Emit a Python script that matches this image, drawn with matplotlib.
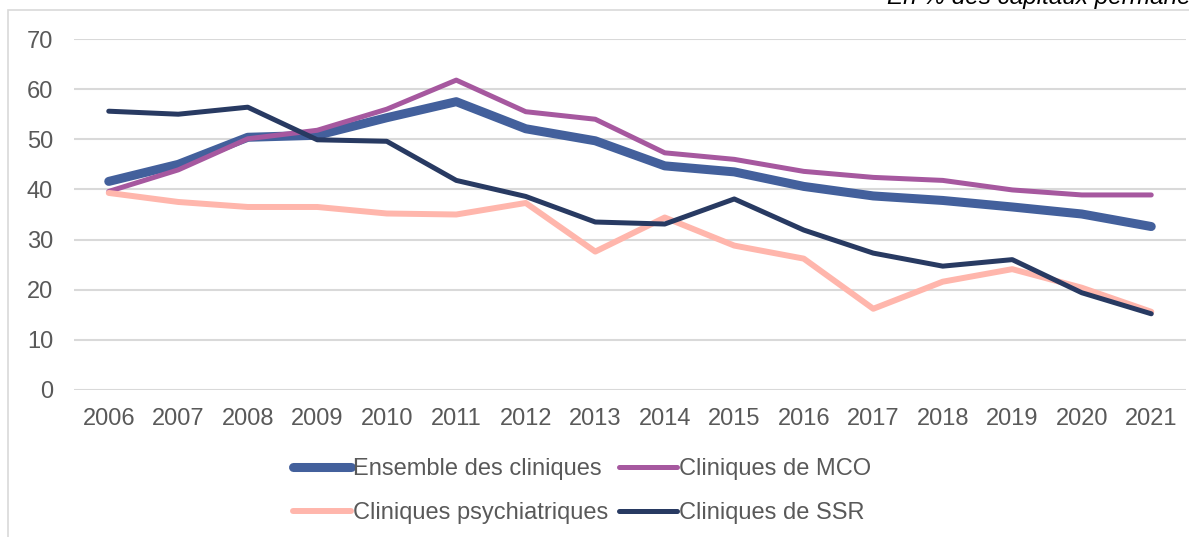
import numpy as np
import matplotlib
matplotlib.use('Agg')
from matplotlib import pyplot as plt
from matplotlib import rcParams
from matplotlib.patches import Rectangle

rcParams['font.family'] = ['Liberation Sans', 'DejaVu Sans']

#%% data (en % des capitaux permanents)
years = np.arange(2006, 2022)
ensemble = [41.6, 45.0, 50.4, 50.8, 54.3, 57.5, 52.1, 49.7, 44.7, 43.5, 40.6, 38.7, 37.8, 36.5, 35.1, 32.6]
mco = [39.6, 43.9, 50.1, 51.8, 56.0, 61.8, 55.5, 54.0, 47.3, 46.0, 43.6, 42.4, 41.8, 39.9, 38.9, 38.9]
psy = [39.3, 37.5, 36.5, 36.5, 35.2, 35.0, 37.3, 27.6, 34.4, 28.8, 26.2, 16.2, 21.6, 24.1, 20.4, 15.6]
ssr = [55.6, 55.0, 56.4, 49.9, 49.6, 41.8, 38.6, 33.5, 33.1, 38.1, 31.9, 27.3, 24.7, 26.0, 19.4, 15.2]

labels = ['Ensemble des cliniques', 'Cliniques de MCO', 'Cliniques psychiatriques', 'Cliniques de SSR']
series = [ensemble, mco, psy, ssr]
colors = ['#43609C', '#A6589F', '#FFB6AC', '#283A62']
widths = [6.5, 3.6, 4.3, 3.6]

#%%
fig = plt.figure(figsize=(11.89, 5.37), dpi=100)
ax = fig.add_axes([74/1189, 1-390/537, (1186-74)/1189, (390-39)/537])

x = np.arange(len(years))
lines = []
for s, c, w, lab in zip(series, colors, widths, labels):
    ln, = ax.plot(x, s, color=c, linewidth=w, solid_capstyle='round', label=lab)
    lines.append(ln)

ax.set_xlim(-0.5, len(years)-0.5)
ax.set_ylim(0, 70)
ax.set_yticks(np.arange(0, 71, 10))
ax.set_xticks(x)
ax.set_xticklabels([str(y) for y in years])
ax.grid(axis='y', color='#D9D9D9', linewidth=1.5)
ax.set_axisbelow(True)
for sp in ax.spines.values():
    sp.set_visible(False)
ax.tick_params(length=0, labelsize=17, labelcolor='#595959')
ax.tick_params(axis='y', pad=15)
ax.tick_params(axis='x', pad=13)

# legend at the bottom, 2 x 2 filled row by row
order = [0, 2, 1, 3]
fig.legend([lines[i] for i in order], [labels[i] for i in order], ncol=2,
           loc='center', bbox_to_anchor=(582/1189, 1-491/537), frameon=False,
           fontsize=17, labelcolor='#595959', handlelength=2.45, handletextpad=0.1,
           columnspacing=0.45, labelspacing=0.95)

# chart frame and unit text (cut at the top, as in the source)
fig.patches.append(Rectangle((8/1189, -0.1), 1.2, 1.1-10/537, transform=fig.transFigure,
                             fill=False, edgecolor='#D9D9D9', linewidth=1.2))
fig.text(887/1189, 1-4/537, 'En % des capitaux permanents', fontsize=17.5,
         style='italic', va='baseline', ha='left', color='#000000')

fig.savefig('out.png', dpi=100)
